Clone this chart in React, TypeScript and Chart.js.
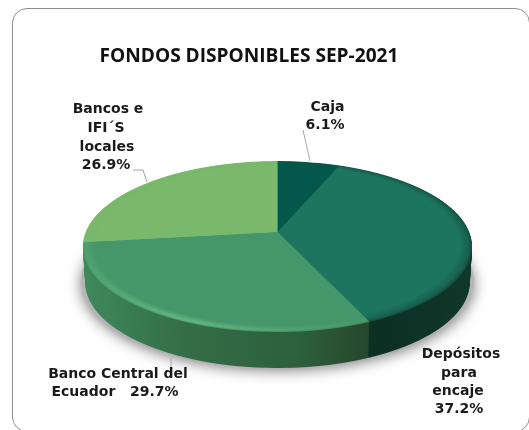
import React, { useEffect, useRef } from "react";
import { Chart, registerables } from "chart.js";

Chart.register(...registerables);

const titleText = "FONDOS DISPONIBLES SEP-2021";
const categories = ["Caja", "Depósitos para encaje", "Banco Central del Ecuador", "Bancos e IFI´S locales"];
const shares = [6.1, 37.2, 29.7, 26.9];
const faceColors = ["#04584b", "#1d745f", "#45966a", "#7ab86b"];

type Stop = [number, string];
const rimOuter: Stop[][] = [
  [[0, "#04584b"], [1, "#04584b"]],
  [[0, "#155c4a"], [1, "#134f3f"]],
  [[0, "#4b9c6b"], [0.3, "#52a673"], [0.6, "#458f63"], [0.75, "#3f8a5d"], [1, "#3f8a5d"]],
  [[0, "#7ab86b"], [1, "#7ab86b"]],
];
const rimMiddle: Stop[][] = [
  [[0, "#04584b"], [1, "#04584b"]],
  [[0, "#1a6957"], [1, "#18604f"]],
  [[0, "#4f a06e".replace(" ", "")], [0.3, "#66b987"], [0.55, "#52a372"], [0.75, "#45966a"], [1, "#45966a"]],
  [[0, "#7ab86b"], [1, "#7ab86b"]],
];
const wallStops: Stop[][] = [
  [[0, "#0e3326"], [1, "#0e3326"]],
  [[0, "#0e3326"], [0.75, "#0d3025"], [1, "#10392b"]],
  [[0, "#3f8a5c"], [0.1, "#3c8357"], [0.3, "#336d46"], [0.55, "#2d5f3c"], [0.73, "#24422a"], [1, "#24422a"]],
  [[0, "#5f9a55"], [1, "#5f9a55"]],
];

const labelFont = 'bold 14px "DejaVu Sans"';
const labelLines: [string, number, number][] = [
  ["Bancos e", 108, 109],
  ["IFI´S", 106, 128],
  ["locales", 107, 147],
  ["26.9%", 106, 165],
  ["Caja", 327.5, 107],
  ["6.1%", 325, 125],
  ["Banco Central del", 118, 374],
  ["Ecuador   29.7%", 115, 392],
  ["Depósitos", 461, 354],
  ["para", 459, 373],
  ["encaje", 458, 391],
  ["37.2%", 459, 409],
];
const leaders: [number, number][][] = [
  [[303, 130], [310, 161]],
  [[133, 170], [143, 170], [147, 182]],
  [[171, 358], [171, 372]],
];

const view = { cx: 277.5, cy: 232, aR: 191.7, bR: 83, tilt: 0.17, depth: 36 };

function gradientFor(ctx: CanvasRenderingContext2D, stops: Stop[], x0: number, x1: number) {
  const g = ctx.createLinearGradient(x0, 0, x1, 0);
  stops.forEach(([p, c]) => g.addColorStop(p, c));
  return g;
}

// Paints the library's arc elements through a perspective projection, one pixel row at a time.
function paintArcs(
  chart: any,
  arcs: any[],
  fills: (string | CanvasGradient)[],
  dy: number,
  shrink: number,
  k: number,
  alpha = 1
) {
  const ctx: CanvasRenderingContext2D = chart.ctx;
  const { cx, bR, tilt } = view;
  const cy = view.cy + dy;
  const aR = view.aR * shrink;
  const first = arcs[0];
  const R = first.outerRadius;
  const ccx = first.x;
  const ccy = first.y;
  const top = Math.floor(cy - bR / (1 + tilt)) - 1;
  const bottom = Math.ceil(cy + bR / (1 - tilt)) + 1;
  arcs.forEach((arc, i) => {
    const saved = arc.options;
    arc.options = { ...saved, backgroundColor: fills[i], borderWidth: 0 };
    for (let y = top; y <= bottom; y++) {
      const s = y + 0.5 - cy;
      const V = s / (bR + s * tilt);
      const w = 1 - tilt * V;
      const xs = aR / R / w;
      const ys = bR / R / (w * w);
      ctx.save();
      ctx.globalAlpha = alpha;
      ctx.beginPath();
      ctx.rect(0, y, chart.width, 1);
      ctx.clip();
      ctx.setTransform(xs * k, 0, 0, ys * k, cx - xs * k * ccx, y + 0.5 - ys * V * R - ys * k * ccy);
      arc.draw(ctx);
      ctx.restore();
    }
    arc.options = saved;
  });
}

const piePlugin = {
  id: "perspectivePie",
  beforeDatasetsDraw(chart: any) {
    const ctx: CanvasRenderingContext2D = chart.ctx;
    const arcs = chart.getDatasetMeta(0).data;
    const first = arcs[0];
    const x0 = first.x - first.outerRadius;
    const x1 = first.x + first.outerRadius;
    const { cx, cy, aR, bR, tilt, depth } = view;

    // soft shadow below the wall
    const offset = (bR * tilt) / (1 - tilt * tilt);
    const ry = bR / Math.sqrt(1 - tilt * tilt);
    const rx = aR / Math.sqrt(1 - tilt * tilt);
    ctx.save();
    ctx.shadowColor = "rgba(0,0,0,0.5)";
    ctx.shadowBlur = 14;
    ctx.shadowOffsetY = 3;
    ctx.fillStyle = "#b5b5b5";
    ctx.beginPath();
    ctx.ellipse(cx, cy + offset + depth - 1, rx + 2, ry + 2, 0, 0, Math.PI * 2);
    ctx.fill();
    ctx.restore();

    // wall
    const wallFills = wallStops.map((s) => gradientFor(ctx, s, x0, x1));
    for (let d = depth; d >= 1; d -= 1) {
      paintArcs(chart, arcs, wallFills, d, 1 - (0.012 * d) / depth, 1);
    }

    // top face with a soft bevel at the rim
    const outer = rimOuter.map((s) => gradientFor(ctx, s, x0, x1));
    const middle = rimMiddle.map((s) => gradientFor(ctx, s, x0, x1));
    paintArcs(chart, arcs, outer, 0, 1, 1);
    paintArcs(chart, arcs, middle, 0, 1, 0.992, 0.6);
    paintArcs(chart, arcs, middle, 0, 1, 0.985);
    [0.98, 0.972, 0.964, 0.956, 0.948, 0.94].forEach((k, i) => {
      paintArcs(chart, arcs, faceColors, 0, 1, k, [0.2, 0.25, 0.3, 0.4, 0.6, 1][i]);
    });
    return false;
  },
  afterDraw(chart: any) {
    const ctx: CanvasRenderingContext2D = chart.ctx;
    ctx.save();
    ctx.strokeStyle = "#a6a6a6";
    ctx.lineWidth = 1;
    leaders.forEach((pts) => {
      ctx.beginPath();
      pts.forEach(([x, y], i) => (i ? ctx.lineTo(x, y) : ctx.moveTo(x, y)));
      ctx.stroke();
    });
    ctx.font = labelFont;
    ctx.fillStyle = "#1a1a1a";
    ctx.textAlign = "center";
    ctx.textBaseline = "middle";
    labelLines.forEach(([t, x, y]) => ctx.fillText(t, x, y));
    ctx.restore();
  },
};

export default function App() {
  const ref = useRef<HTMLCanvasElement>(null);
  useEffect(() => {
    if (!ref.current) return;
    const chart = new Chart(ref.current, {
      type: "pie",
      data: {
        labels: categories,
        datasets: [{ data: shares, backgroundColor: faceColors, borderWidth: 0 }],
      },
      options: {
        animation: false,
        responsive: false,
        layout: { padding: { right: 31, left: 0, top: 0, bottom: 0 } },
        plugins: {
          legend: { display: false },
          tooltip: { enabled: false },
          title: {
            display: true,
            text: titleText,
            color: "#111111",
            font: { family: '"Open Sans"', size: 19.1, weight: "700" },
            padding: { top: 45, bottom: 10 },
          },
        },
      },
      plugins: [piePlugin],
    } as any);
    return () => chart.destroy();
  }, []);
  return (
    <div style={{ position: "fixed", inset: 0, overflow: "hidden", background: "#fff", filter: "blur(0.45px)" }}>
      <div
        style={{
          position: "absolute",
          left: 12,
          top: 8,
          width: 518,
          height: 424,
          border: "1.5px solid #8e8e8e",
          borderRadius: 15,
          boxSizing: "border-box",
        }}
      />
      <canvas ref={ref} width={529} height={430} style={{ position: "absolute", left: 0, top: 0, width: 529, height: 430 }} />
    </div>
  );
}
